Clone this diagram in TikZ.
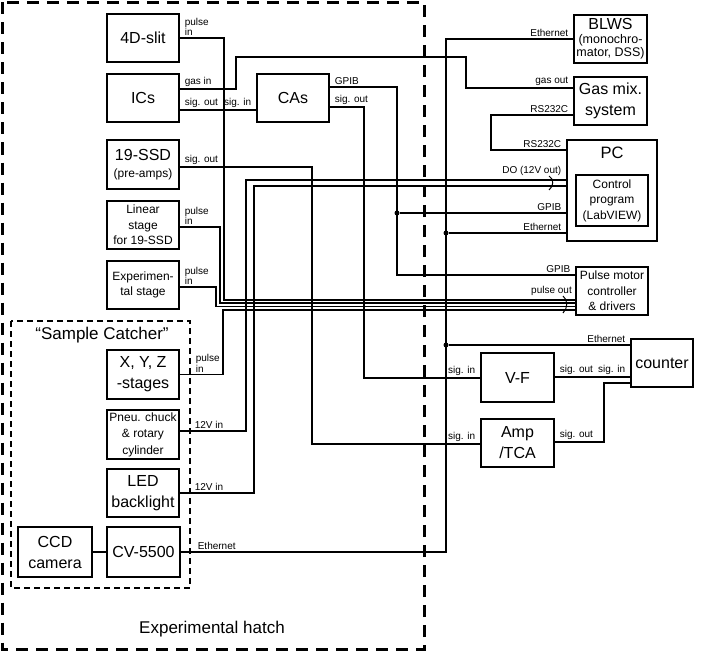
\documentclass[tikz,border=0pt]{standalone}
\usepackage{fontspec}
\setmainfont{Liberation Sans}
\usetikzlibrary{positioning}
\tikzset{%
	unit/.style={%
		draw,
		line width=2.2pt,
		align=center,
		inner sep=1pt,
		minimum width=72pt,
		minimum height=48pt,
		font=\fontsize{16}{21}\selectfont
	},
	subunit/.style={unit, font=\fontsize{12}{15.5}\selectfont},
	wire/.style={line width=1.4pt},
	port/.style={font=\fontsize{10}{8}\selectfont, inner xsep=4pt, inner ysep=1.5pt, align=left},
	hatch/.style={line width=3pt, dash pattern=on 12pt off 8pt},
	catcher/.style={line width=2pt, dash pattern=on 6pt off 4pt},
	joint/.style={circle, fill, inner sep=0pt, minimum size=5pt}
}
\begin{document}
\begin{tikzpicture}[x=1pt, y=-1pt]
	\useasboundingbox (0,0) rectangle (708,655);
	% experimental hatch and sample catcher
	\draw[hatch] (2.5,2.5) rectangle (424,649);
	\node[font=\fontsize{17}{20}\selectfont] (hatchname) at (212,629) {Experimental hatch};
	\draw[catcher] (11,321) rectangle (190,588);
	\node[font=\fontsize{17}{20}\selectfont] (catchname) at (102,335) {“Sample Catcher”};

	% units in the hatch
	\node[unit] (slit) at (143,38) {4D-slit};
	\node[unit] (ics) at (143,98) {ICs};
	\node[unit] (cas) at (293,98) {CAs};
	\node[unit, minimum height=49pt] (ssd) at (143,164.5) {19-SSD\\[-4pt]{\fontsize{12}{14}\selectfont (pre-amps)}};
	\node[subunit] (lin) at (143,225) {Linear\\stage\\for 19-SSD};
	\node[subunit] (exps) at (143,285) {Experimen-\\tal stage};
	\node[unit, minimum height=49pt] (xyz) at (143,374.5) {X, Y, Z\\-stages};
	\node[subunit, minimum height=49pt, font=\fontsize{12}{16.5}\selectfont] (pneu) at (143,434.5) {Pneu. chuck\\\& rotary\\cylinder};
	\node[unit] (led) at (143,493) {LED\\backlight};
	\node[unit, minimum width=74pt, minimum height=50pt] (ccd) at (55,552) {CCD\\camera};
	\node[unit, minimum width=73pt, minimum height=50pt] (cv) at (143.5,552) {CV-5500};

	% units outside
	\node[unit, minimum width=73pt, font=\fontsize{16}{16}\selectfont] (blws) at (610.5,39) {BLWS\\[-2pt]{\fontsize{12.5}{14}\selectfont (monochro-}\\[-3pt]{\fontsize{12.5}{14}\selectfont mator, DSS)}};
	\node[unit, minimum width=73pt] (gas) at (610.5,101) {Gas mix.\\system};
	\node[unit, minimum width=90pt, minimum height=101pt,
		label={[font=\fontsize{16.5}{20}\selectfont, anchor=north, yshift=-5pt]north:PC}] (pc) at (612,190.5) {};
	\node[subunit, minimum height=51pt] (ctrl) at (612,200.5) {Control\\program\\(LabVIEW)};
	\node[subunit] (pmc) at (612,291) {Pulse motor\\controller\\\& drivers};
	\node[unit, minimum width=62pt] (cnt) at (662,363) {counter};
	\node[unit, minimum width=73pt, minimum height=49pt] (vf) at (517.5,377.5) {V-F};
	\node[unit, minimum width=73pt] (amp) at (517.5,443) {Amp\\/TCA};

	% pulse lines to the motor controller
	\draw[wire] (slit.east) node[port, above right] {pulse\\in} -| (224,300) -- (pmc.west |- 0,300);
	\draw[wire] (lin.east |- 0,227) node[port, above right] {pulse\\in} -| (220,303) -- (pmc.west |- 0,303);
	\draw[wire] (exps.east |- 0,287) node[port, above right] {pulse\\in} -| (216,306.5) -- (pmc.west |- 0,306.5);
	\draw[wire] (xyz.east) node[port, above right, xshift=11pt] {pulse\\in} -| (223,310) -- (pmc.west |- 0,310);
	\node[port, anchor=south east] (pulseout) at (576,297) {pulse out};
	\draw[line width=1pt] (563,296) .. controls (568,300) and (568,308) .. (563,313);

	% gas and signals
	\draw[wire] (ics.east |- 0,89) node[port, above right] {gas in} -- (236,89) |- (466,57) |- (gas.west |- 0,88) node[port, above left] {gas out};
	\draw[wire] (ics.east |- 0,110) node[port, above right] {sig. out} -- (cas.west |- 0,110) node[port, above left] {sig. in};
	\draw[wire] (cas.east |- 0,107) node[port, above right] {sig. out} -| (364,378) -- (vf.west |- 0,378) node[port, above left] {sig. in};
	\draw[wire] (ssd.east |- 0,167) node[port, above right] {sig. out} -| (312,444) -- (amp.west |- 0,444) node[port, above left] {sig. in};
	\draw[wire] (vf.east |- 0,377) node[port, above right] {sig. out} -- (cnt.west |- 0,377) node[port, above left] {sig. in};
	\draw[wire] (amp.east |- 0,442) node[port, above right] {sig. out} -| (604,383) -- (cnt.west |- 0,383);

	% GPIB bus
	\node[joint] (gpib) at (397,213) {};
	\draw[wire] (cas.east |- 0,87) node[port, above right] {GPIB} -| (397,275) -- (pmc.west |- 0,275) node[port, above left] {GPIB};
	\draw[wire] (gpib) -- (pc.west |- gpib) node[port, above left] {GPIB};

	% RS232C
	\draw[wire] (gas.west |- 0,115) node[port, above left] {RS232C} -| (491,150) -- (pc.west |- 0,150) node[port, above left] {RS232C};

	% 12V lines
	\draw[wire] (pc.west |- 0,180) node[port, above left, yshift=2pt] {DO (12V out)} -| (246,431) -- (pneu.east |- 0,431) node[port, above right, xshift=10pt] {12V in};
	\draw[wire] (pc.west |- 0,186) -| (254,493) -- (led.east |- 0,493) node[port, above right, xshift=10pt] {12V in};
	\draw[line width=1pt] (549,176) .. controls (554,179) and (554,186) .. (549,190);

	% Ethernet
	\node[joint] (ethpc) at (446,233) {};
	\node[joint] (ethcnt) at (446,345) {};
	\draw[wire] (blws.west |- 0,39) node[port, above left] {Ethernet} -| (446,552) -- (cv.east |- 0,552) node[port, above right, xshift=12pt] {Ethernet};
	\draw[wire] (ethpc) -- (pc.west |- ethpc) node[port, above left] {Ethernet};
	\draw[wire] (ethcnt) -- (cnt.west |- ethcnt) node[port, above left] {Ethernet};
	\draw[wire] (ccd) -- (cv);
\end{tikzpicture}
\end{document}
